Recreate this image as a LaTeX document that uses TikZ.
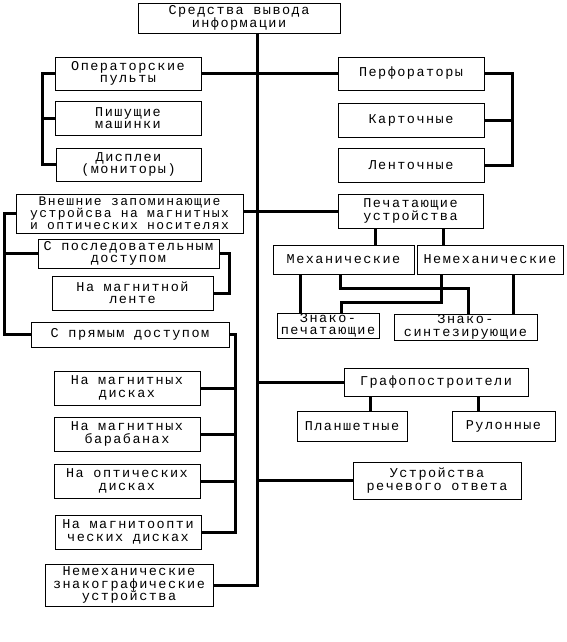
\documentclass[tikz,border=0pt]{standalone}
\usepackage{fontspec}
\newfontfamily\monof[LetterSpace=11]{Liberation Mono}
\begin{document}
\begin{tikzpicture}[x=1pt,y=-1pt,
  bx/.style={draw, line width=0.9pt, inner sep=0pt, align=center,
    font=\monof\fontsize{13.5}{12.5}\selectfont},
  tight/.style={font=\monof\fontsize{13}{12.2}\selectfont},
  ln/.style={line width=3pt, line join=miter}]
\useasboundingbox (0,0) rectangle (566,642);
\fill[white] (0,0) rectangle (566,642);
% boxes
\node[bx, minimum width=202pt, minimum height=30pt] (top) at (239,18) {Средства вывода\\информации};
\node[bx, minimum width=146pt, minimum height=33pt] (oper) at (128,73.5) {Операторские\\пульты};
\node[bx, minimum width=146pt, minimum height=34pt] (pish) at (128,118) {Пишущие\\машинки};
\node[bx, minimum width=145pt, minimum height=33pt] (disp) at (128.5,164.5) {Дисплеи\\(мониторы)};
\node[bx, minimum width=146pt, minimum height=33pt] (perf) at (411,73.5) {Перфораторы};
\node[bx, minimum width=146pt, minimum height=34pt] (kart) at (411,120) {Карточные};
\node[bx, minimum width=146pt, minimum height=34pt] (lent) at (411,165) {Ленточные};
\node[bx, tight, minimum width=227pt, minimum height=39pt] (vnesh) at (129.5,213.5) {Внешние запоминающие\\устройсва на магнитных\\и оптических носителях};
\node[bx, minimum width=181pt, minimum height=29pt] (posl) at (128.5,253.5) {С последовательным\\доступом};
\node[bx, minimum width=161pt, minimum height=34pt] (lenta) at (132.5,293) {На магнитной\\ленте};
\node[bx, minimum width=198pt, minimum height=25pt] (pryam) at (130,334.5) {С прямым доступом};
\node[bx, minimum width=146pt, minimum height=34pt] (mdisk) at (127,388) {На магнитных\\дисках};
\node[bx, minimum width=146pt, minimum height=34pt] (mbar) at (127,434) {На магнитных\\барабанах};
\node[bx, minimum width=146pt, minimum height=34pt] (odisk) at (127,481) {На оптических\\дисках};
\node[bx, minimum width=146pt, minimum height=34pt] (mo) at (128,532) {На магнитоопти\\ческих дисках};
\node[bx, minimum width=168pt, minimum height=42pt] (nzu) at (129,585) {Немеханические\\знакографические\\устройства};
\node[bx, minimum width=145pt, minimum height=34pt] (pech) at (410.5,211) {Печатающие\\устройства};
\node[bx, minimum width=141pt, minimum height=29pt] (mech) at (343.5,259.5) {Механические};
\node[bx, minimum width=146pt, minimum height=29pt] (nemech) at (490,259.5) {Немеханические};
\node[bx, minimum width=102pt, minimum height=25pt] (znp) at (328,325.5) {Знако-\\печатающие};
\node[bx, minimum width=143pt, minimum height=26pt] (zns) at (465.5,327) {Знако-\\синтезирующие};
\node[bx, minimum width=184pt, minimum height=28pt] (graf) at (436,382) {Графопостроители};
\node[bx, minimum width=110pt, minimum height=30pt] (plan) at (352,426) {Планшетные};
\node[bx, minimum width=103pt, minimum height=30pt] (rul) at (503.5,426) {Рулонные};
\node[bx, minimum width=168pt, minimum height=37pt] (rech) at (437,480.5) {Устройства\\речевого ответа};
% guide coordinates
\coordinate (tr) at (257,0);
\coordinate (lb1) at (42,0);
\coordinate (rb1) at (512,0);
\coordinate (lb2) at (4,0);
\coordinate (rb2) at (229,0);
\coordinate (rb3) at (235,0);
\coordinate (xm) at (375,0);
\coordinate (xn) at (443,0);
\coordinate (xa) at (300,0);
\coordinate (xb) at (340,0);
\coordinate (xc) at (468,0);
\coordinate (xd) at (441,0);
\coordinate (xe) at (341,0);
\coordinate (xf) at (513,0);
\coordinate (xg) at (370,0);
\coordinate (xh) at (478,0);
\coordinate (ya) at (0,288);
\coordinate (yb) at (0,302);
% connectors
\draw[ln] (top.south -| tr) |- (nzu.east);
\draw[ln] (oper.east) -- (perf.west);
\draw[ln] (oper.west) -- (oper.west -| lb1) |- (disp.west);
\draw[ln] (pish.west) -- (pish.west -| lb1);
\draw[ln] (perf.east) -- (perf.east -| rb1) |- (lent.east);
\draw[ln] (kart.east) -- (kart.east -| rb1);
\draw[ln] (vnesh.east |- pech.west) -- (pech.west);
\draw[ln] (vnesh.west) -- (vnesh.west -| lb2) |- (pryam.west);
\draw[ln] (posl.west -| lb2) -- (posl.west);
\draw[ln] (posl.east) -- (posl.east -| rb2) |- (lenta.east);
\draw[ln] (pryam.east) -- (pryam.east -| rb3) |- (mo.east);
\draw[ln] (mdisk.east) -- (mdisk.east -| rb3);
\draw[ln] (mbar.east) -- (mbar.east -| rb3);
\draw[ln] (odisk.east) -- (odisk.east -| rb3);
\draw[ln] (pech.south -| xm) -- (mech.north -| xm);
\draw[ln] (pech.south -| xn) -- (nemech.north -| xn);
\draw[ln] (mech.south -| xa) -- (znp.north -| xa);
\draw[ln] (mech.south -| xb) |- (ya -| xc) -- (zns.north -| xc);
\draw[ln] (nemech.south -| xd) |- (yb -| xe) -- (znp.north -| xe);
\draw[ln] (nemech.south -| xf) -- (zns.north -| xf);
\draw[ln] (graf.west -| tr) -- (graf.west);
\draw[ln] (graf.south -| xg) -- (plan.north -| xg);
\draw[ln] (graf.south -| xh) -- (rul.north -| xh);
\draw[ln] (rech.west -| tr) -- (rech.west);
\end{tikzpicture}
\end{document}
